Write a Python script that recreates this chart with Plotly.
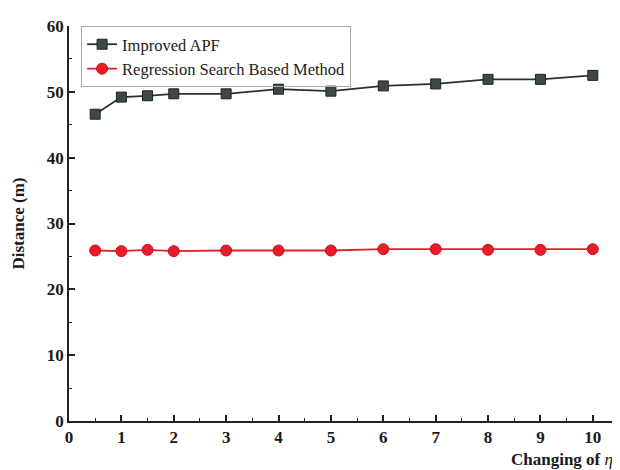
import plotly.graph_objects as go

eta = [0.5, 1, 1.5, 2, 3, 4, 5, 6, 7, 8, 9, 10]
apf = [46.6, 49.2, 49.4, 49.7, 49.7, 50.4, 50.1, 50.9, 51.2, 51.9, 51.9, 52.5]
rsb = [25.9, 25.8, 26.0, 25.8, 25.9, 25.9, 25.9, 26.1, 26.1, 26.0, 26.0, 26.1]
xticks = [0, 1, 2, 3, 4, 5, 6, 7, 8, 9, 10]
yticks = [0, 10, 20, 30, 40, 50, 60]

font = "Liberation Serif"
fig = go.Figure()
fig.add_trace(go.Scatter(x=eta, y=apf, mode="lines+markers", name="Improved APF",
                         line=dict(color="#2b2f2d", width=1.8),
                         marker=dict(symbol="square", size=10, color="#3c4a44",
                                     line=dict(color="#222", width=1))))
fig.add_trace(go.Scatter(x=eta, y=rsb, mode="lines+markers", name="Regression Search Based Method",
                         line=dict(color="#e8202a", width=1.8),
                         marker=dict(symbol="circle", size=11, color="#ea1c2a",
                                     line=dict(color="#c8101c", width=1))))
fig.update_layout(
    width=620, height=470,
    margin=dict(l=60, r=9, t=11, b=57),
    paper_bgcolor="white", plot_bgcolor="white",
    font=dict(family=font, size=17, color="#1a1a1a"),
    showlegend=True,
    legend=dict(x=0.022, y=1.0, xanchor="left", yanchor="top",
                bordercolor="#b0a9a0", borderwidth=1, bgcolor="rgba(255,255,255,0)",
                font=dict(family=font, size=16.5, color="#222"),
                tracegroupgap=0),
    xaxis=dict(range=[0, 10.5], tickvals=xticks, showgrid=False, zeroline=False,
               showline=True, linecolor="#222", linewidth=1.5,
               ticks="inside", ticklen=6, tickcolor="#222", tickwidth=1.5,
               minor=dict(dtick=0.5, ticks="inside", ticklen=3, tickcolor="#222", tickwidth=1.2),
               tickfont=dict(family=font, size=17, color="#1a1a1a", weight="bold")),
    yaxis=dict(range=[0, 60], tickvals=yticks, showgrid=False, zeroline=False,
               showline=True, linecolor="#222", linewidth=1.5,
               ticks="inside", ticklen=6, tickcolor="#222", tickwidth=1.5,
               minor=dict(dtick=5, ticks="inside", ticklen=3, tickcolor="#222", tickwidth=1.2),
               tickfont=dict(family=font, size=17, color="#1a1a1a", weight="bold"),
               title=dict(text="<b>Distance (m)</b>", font=dict(family=font, size=17), standoff=18)),
)
fig.add_annotation(text="<b>Changing of </b><i>η</i>", xref="paper", yref="paper",
                   x=0.993, y=-0.068, xanchor="right", yanchor="top", showarrow=False,
                   font=dict(family=font, size=17, color="#1a1a1a"))
fig.write_html("out.html")
